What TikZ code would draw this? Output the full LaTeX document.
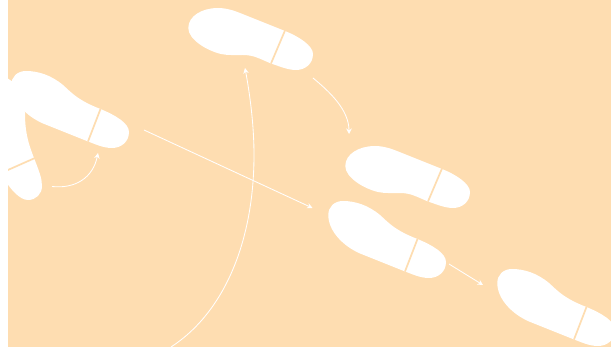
\documentclass[tikz,border=0pt]{standalone}
\usetikzlibrary{arrows.meta}
\definecolor{bgc}{HTML}{FEDDB1}
\tikzset{
  strap/.style={draw=bgc,line width=1.7pt},
  move/.style={draw=white,line width=0.85pt,-{Stealth[length=5.5pt,width=5.5pt]}},
  footA/.pic={
    \fill[white] (0.3,14) .. controls (0.3,6) and (6,0) .. (15,0)
      .. controls (27,0) and (40,4) .. (52,14)
      .. controls (60,21) and (66,29) .. (89.5,38)
      .. controls (104,44) and (118,52) .. (118,61)
      .. controls (118,71) and (110,77) .. (101,77)
      .. controls (92,77) and (84,73) .. (77,70.5)
      -- (32,52.5)
      .. controls (15,45) and (0.3,30) .. (0.3,14) -- cycle;
    \draw[strap] (89.5,38) -- (77,70.5);
  },
  footB/.pic={
    \fill[white] (0.3,20) .. controls (0.3,8) and (14,0) .. (30,0)
      .. controls (38,0) and (46,2.5) .. (52,5)
      -- (97,23)
      .. controls (112,29) and (125,38) .. (125,46)
      .. controls (125,56) and (117,62) .. (108,62)
      .. controls (100,62) and (92,58.5) .. (83,55.5)
      .. controls (72,51) and (66,47) .. (55,47)
      .. controls (48,47) and (40,47.5) .. (33,46)
      .. controls (20,43) and (0.3,32) .. (0.3,20) -- cycle;
    \draw[strap] (97,22.5) -- (83,55.5);
  }
}
\begin{document}
\begin{tikzpicture}[x=1pt,y=-1pt]
\useasboundingbox (0,0) rectangle (611,347);
\clip (8,0) rectangle (611,347);
\fill[bgc] (8,0) rectangle (611,347);
\pic at (188,8) {footB};
\pic at (345,146) {footB};
\pic at (328,201) {footA};
\pic at (497,269) {footA};
\fill[white] (-2,72) -- (13,82) -- (25,112)
  .. controls (25,130) and (27,140) .. (34,158)
  .. controls (39,171) and (42,178) .. (42,186)
  .. controls (42,194) and (36,200) .. (28,200)
  .. controls (20,200) and (10,190) .. (0,172) -- cycle;
\draw[strap] (0,173.5) -- (35,158);
\pic at (11,71) {footA};
\coordinate (a1s) at (52,186.5);
\coordinate (a1e) at (98,153);
\coordinate (a2s) at (144,130);
\coordinate (a2e) at (312.5,208);
\coordinate (a3s) at (171,347);
\coordinate (a3e) at (245,68);
\coordinate (a4s) at (313,78);
\coordinate (a4e) at (349,134);
\coordinate (a5s) at (449,264);
\coordinate (a5e) at (483,285);
\draw[move] (a1s) .. controls (75,189) and (93,178) .. (a1e);
\draw[move] (a2s) -- (a2e);
\draw[move] (a3s) .. controls (225,312) and (254,240) .. (254,155) .. controls (254,125) and (250,95) .. (a3e);
\draw[move] (a4s) .. controls (330,92) and (349,110) .. (a4e);
\draw[move] (a5s) -- (a5e);
\end{tikzpicture}
\end{document}
